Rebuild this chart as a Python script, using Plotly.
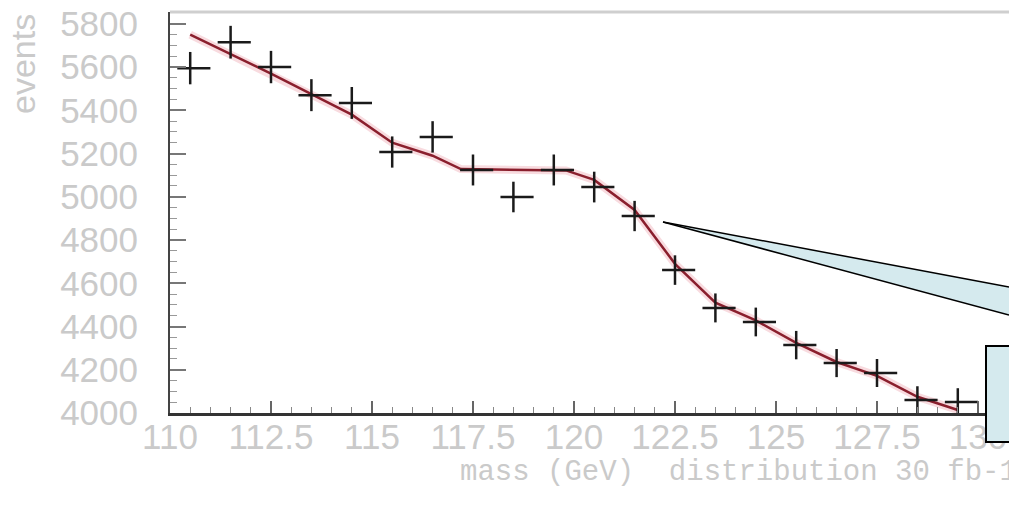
import numpy as np
import plotly.graph_objects as go

# ---- data ----
mass_bins = [110.5, 111.5, 112.5, 113.5, 114.5, 115.5, 116.5, 117.5, 118.5, 119.5,
             120.5, 121.5, 122.5, 123.5, 124.5, 125.5, 126.5, 127.5, 128.5, 129.5]
events = [5595, 5715, 5600, 5470, 5434, 5207, 5277, 5124, 4999, 5124,
          5045, 4911, 4661, 4486, 4421, 4314, 4231, 4185, 4060, 4051]
events_err = list(np.sqrt(events))

fit_mass = [110.5, 111.5, 112.5, 113.5, 114.5, 115.5, 116.5, 117.2, 118.5, 119.8,
            120.5, 121.5, 122.5, 123.5, 124.5, 125.5, 126.5, 127.5, 128.5, 129.5]
fit_events = [5750, 5660, 5570, 5475, 5380, 5250, 5190, 5128, 5125, 5122,
              5078, 4939, 4690, 4510, 4428, 4324, 4236, 4172, 4075, 4014]

x_ticks = [110, 112.5, 115, 117.5, 120, 122.5, 125, 127.5, 130]
x_tick_text = ["110", "112.5", "115", "117.5", "120", "122.5", "125", "127.5", "130"]
y_ticks = [4000, 4200, 4400, 4600, 4800, 5000, 5200, 5400, 5600, 5800]

W, H = 1009, 507
L, R, T, B = 170, 0, 12, 94
pw, ph = W - L - R, H - T - B

def px(xp):
    return (xp - L) / pw

def py(yp):
    return (H - B - yp) / ph

fig = go.Figure()

# fit halo + core
fig.add_trace(go.Scatter(x=fit_mass, y=fit_events, mode="lines",
                         line=dict(color="rgba(225,90,110,0.22)", width=8),
                         hoverinfo="skip", showlegend=False))
fig.add_trace(go.Scatter(x=fit_mass, y=fit_events, mode="lines",
                         line=dict(color="#8a1f2d", width=2.5),
                         showlegend=False))

# data crosses
fig.add_trace(go.Scatter(
    x=mass_bins, y=events, mode="markers",
    marker=dict(size=1, color="#1a1a1a"),
    error_y=dict(type="data", array=events_err, color="#1a1a1a", thickness=2.5, width=0),
    error_x=dict(type="data", symmetric=False, array=[0.5] * len(mass_bins),
                 arrayminus=[0.32] * len(mass_bins), color="#1a1a1a", thickness=2.5, width=0),
    showlegend=False))

label_color = "#cacaca"
fig.update_layout(
    width=W, height=H,
    margin=dict(l=L, r=R, t=T, b=B, pad=0),
    plot_bgcolor="white", paper_bgcolor="white",
    xaxis=dict(range=[110, 110 + pw / 40.4], tickvals=x_ticks, ticktext=x_tick_text,
               ticks="inside", ticklen=12, tickwidth=1.5, tickcolor="#666",
               minor=dict(dtick=0.5, ticks="inside", ticklen=6, tickcolor="#888", tickwidth=1),
               showline=True, linecolor="#333", linewidth=2.5, showgrid=False,
               zeroline=False, ticklabelstandoff=-9,
               tickfont=dict(family="Liberation Sans", size=35, color=label_color)),
    yaxis=dict(range=[4000, 4000 + ph * 4.625], tickvals=y_ticks,
               ticks="inside", ticklen=16, tickwidth=1.5, tickcolor="#777",
               minor=dict(dtick=50, ticks="inside", ticklen=7, tickcolor="#999", tickwidth=1),
               showline=True, linecolor="#444", linewidth=2, showgrid=False,
               zeroline=False, ticklabelstandoff=23,
               tickfont=dict(family="Liberation Sans", size=35, color=label_color)),
    font=dict(family="Liberation Sans", color=label_color),
)

# top frame line
fig.add_shape(type="line", xref="paper", yref="paper", x0=0, x1=1, y0=1, y1=1,
              line=dict(color="#cfcfcf", width=3))

# callout wedge
tip = (px(663), py(222))
up = (px(1009), py(287))
lo = (px(1009), py(315))
fig.add_shape(type="path", xref="paper", yref="paper",
              path=f"M {tip[0]},{tip[1]} L {up[0]},{up[1]} L {lo[0]},{lo[1]} Z",
              fillcolor="#d5eaee", line=dict(width=0), layer="above")
fig.add_shape(type="line", xref="paper", yref="paper", x0=tip[0], y0=tip[1], x1=up[0], y1=up[1],
              line=dict(color="black", width=1.5), layer="above")
fig.add_shape(type="line", xref="paper", yref="paper", x0=tip[0], y0=tip[1], x1=lo[0], y1=lo[1],
              line=dict(color="black", width=1.5), layer="above")
# callout box
fig.add_shape(type="rect", xref="paper", yref="paper",
              x0=px(986), x1=px(1030), y0=py(442), y1=py(346),
              fillcolor="#d5eaee", line=dict(color="black", width=2), layer="above")

# axis titles
fig.add_annotation(text="events", xref="paper", yref="paper",
                   x=px(23), y=py(12), xanchor="center", yanchor="top",
                   textangle=-90, showarrow=False,
                   font=dict(family="Liberation Sans", size=34, color=label_color))
fig.add_annotation(text="mass (GeV)\u00a0\u00a0distribution 30 fb-1", xref="paper", yref="paper",
                   x=px(458), y=py(472), xanchor="left", yanchor="middle",
                   showarrow=False,
                   font=dict(family="Liberation Mono", size=29, color=label_color))

fig.write_html("out.html", config={"displayModeBar": False},
               post_script="document.body.style.margin='0px';document.body.style.overflow='hidden';")
